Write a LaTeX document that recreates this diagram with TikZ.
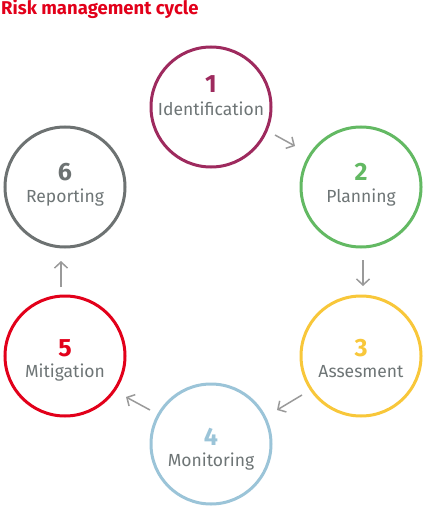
\documentclass[tikz,border=0pt]{standalone}
\usepackage{fontspec}
\setmainfont{Fira Sans}
\usetikzlibrary{arrows.meta}
\definecolor{cA}{HTML}{9E2A5E}
\definecolor{cB}{HTML}{63B963}
\definecolor{cC}{HTML}{F8C73A}
\definecolor{cD}{HTML}{9BC4D8}
\definecolor{cE}{HTML}{E2001A}
\definecolor{cF}{HTML}{6D7272}
\definecolor{txt}{HTML}{6E7576}
\definecolor{arr}{HTML}{9A9A9A}
\tikzset{
  ring/.style={circle, draw, line width=3pt, minimum size=120pt, inner sep=0pt},
  num/.style={font=\fontsize{25}{25}\selectfont\bfseries, anchor=base},
  lab/.style={font=\fontsize{17.5}{17.5}\selectfont, text=txt, anchor=base},
  flow/.style={draw=arr, line width=1.5pt, -{Straight Barb[length=6pt,width=13pt,line width=1.5pt]}}
}
\begin{document}
\begin{tikzpicture}[x=1pt,y=-1pt]
\useasboundingbox (0,0) rectangle (425,508);
\node[font=\fontsize{18.5}{18.5}\selectfont\bfseries, text=cE, anchor=base west, inner sep=0pt] (title) at (1,14.5) {Risk management cycle};
% circles
\node[ring, draw=cA] (c1) at (211,107) {};
\node[ring, draw=cB] (c2) at (361,187) {};
\node[ring, draw=cC] (c3) at (361,356) {};
\node[ring, draw=cD] (c4) at (211,444) {};
\node[ring, draw=cE] (c5) at (65,356) {};
\node[ring, draw=cF] (c6) at (65,187) {};
% texts
\node[num, text=cA] (n1) at (211,93) {1};
\node[lab] (l1) at (211,116) {Identification};
\node[num, text=cB] (n2) at (361,180) {2};
\node[lab] (l2) at (361,202) {Planning};
\node[num, text=cC] (n3) at (361,356) {3};
\node[lab] (l3) at (361,377) {Assesment};
\node[num, text=cD] (n4) at (211,445) {4};
\node[lab] (l4) at (211,466) {Monitoring};
\node[num, text=cE] (n5) at (65,356) {5};
\node[lab] (l5) at (65,377) {Mitigation};
\node[num, text=cF] (n6) at (65,180) {6};
\node[lab] (l6) at (65,202) {Reporting};
% arrow endpoints
\coordinate (a1s) at (275,135); \coordinate (a1e) at (295,146);
\coordinate (a2s) at (363,260); \coordinate (a2e) at (363,286);
\coordinate (a3s) at (302,395); \coordinate (a3e) at (277,410);
\coordinate (a4s) at (150,410); \coordinate (a4e) at (126,397);
\coordinate (a5s) at (61,287); \coordinate (a5e) at (61,261);
\draw[flow] (a1s) -- (a1e);
\draw[flow] (a2s) -- (a2e);
\draw[flow] (a3s) -- (a3e);
\draw[flow] (a4s) -- (a4e);
\draw[flow] (a5s) -- (a5e);
\end{tikzpicture}
\end{document}
